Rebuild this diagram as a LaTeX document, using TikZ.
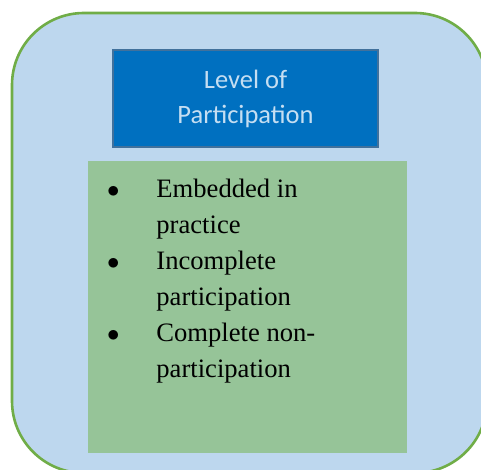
\documentclass[tikz,border=0pt]{standalone}
\usepackage{fontspec}
\setmainfont{Liberation Serif}
\newfontfamily\titlefont{Carlito}
\usepackage{xcolor}
\usetikzlibrary{positioning}

\definecolor{panelblue}{RGB}{189,215,238}
\definecolor{panelgreen}{RGB}{112,173,71}
\definecolor{headblue}{RGB}{0,112,192}
\definecolor{headedge}{RGB}{65,113,156}
\definecolor{headtext}{RGB}{197,222,242}
\definecolor{listgreen}{RGB}{150,196,152}

\newcommand{\itemdot}{$\bullet$}

\begin{document}
\begin{tikzpicture}[
    x=1pt, y=-1pt,
    panel/.style={
        draw=panelgreen,
        line width=2.6pt,
        fill=panelblue,
        rounded corners=72pt,
        minimum width=475pt,
        minimum height=460pt
    },
    head/.style={
        draw=headedge,
        line width=1.4pt,
        fill=headblue,
        minimum width=265pt,
        minimum height=97pt,
        align=center,
        text=headtext,
        font=\titlefont\fontsize{26.5}{35}\selectfont
    },
    listbox/.style={
        fill=listgreen,
        minimum width=319pt,
        minimum height=292pt
    },
    items/.style={
        anchor=north west,
        inner sep=0pt,
        font=\fontsize{26.6}{36}\selectfont
    }
]
\useasboundingbox (0,0) rectangle (481,470);

\node[panel] (panel) at (249.5,243) {};

\node[head] (title) at (245.5,98.5) {Level of\\Participation};

\node[listbox, below=13pt of title, xshift=2pt] (list) {};

\node[items] (points) at ([xshift=19pt,yshift=-11.8pt]list.north west) {%
    \begin{tabular}{@{}l@{\hspace{37pt}}l@{}}
    \itemdot & Embedded in\\
             & practice\\
    \itemdot & Incomplete\\
             & participation\\
    \itemdot & Complete non-\\
             & participation
    \end{tabular}};

\end{tikzpicture}
\end{document}
